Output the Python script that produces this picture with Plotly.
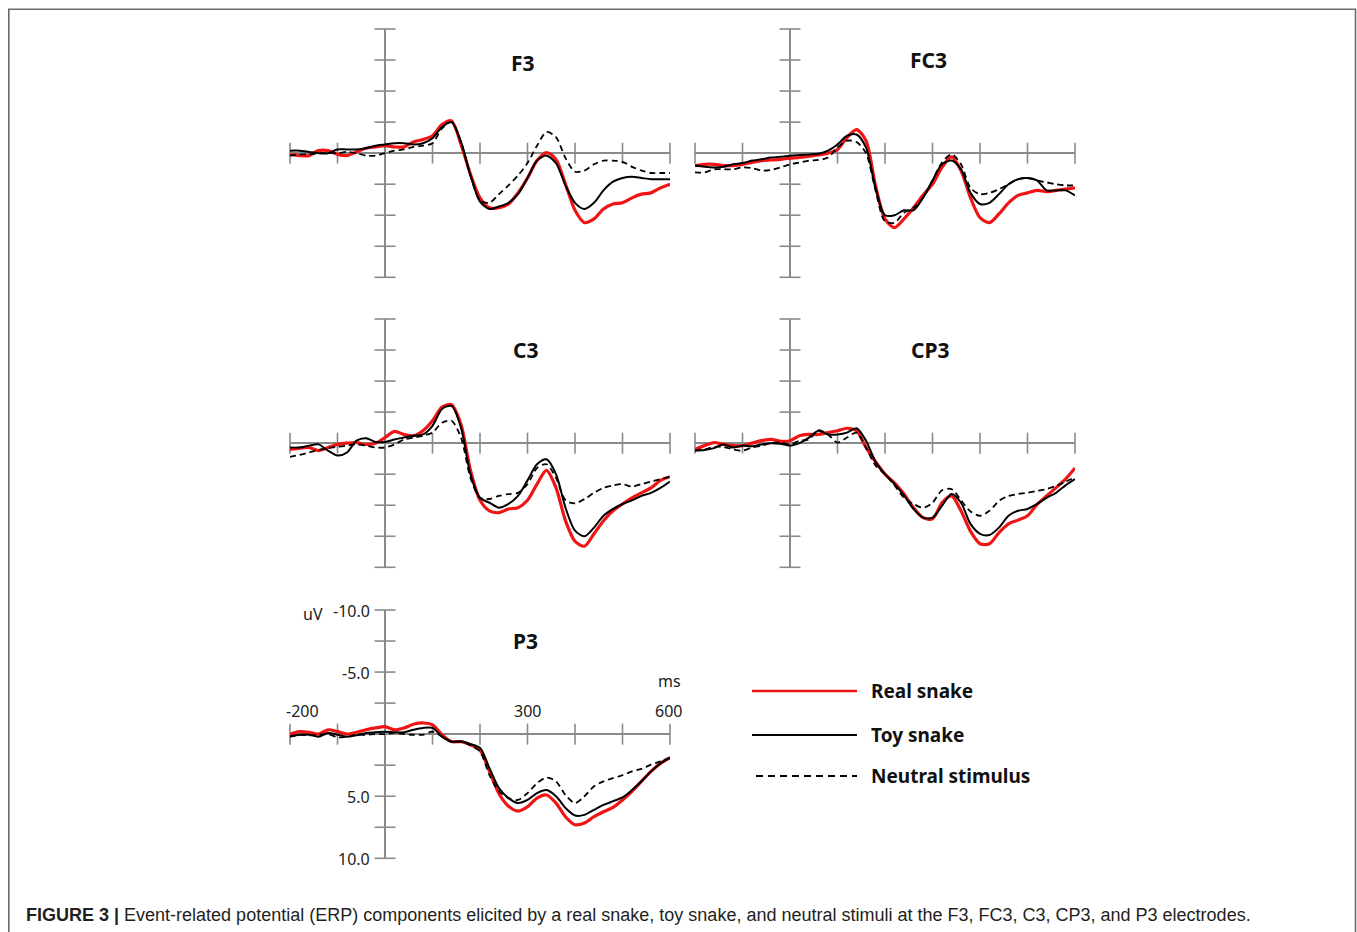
import plotly.graph_objects as go

# ---------------- data ----------------
time_ms = list(range(-200, 601, 20))

panel_names = ["F3", "FC3", "C3", "CP3", "P3"]
series_names = ["Real snake", "Toy snake", "Neutral stimulus"]

f3_real = [0.1, 0.2, 0.2, -0.2, -0.2, 0.1, 0.2, -0.1, -0.4, -0.5, -0.6, -0.5, -0.5, -0.9, -1.1, -1.4, -2.3, -2.6, -0.7, 1.7,
           3.6, 4.4, 4.4, 4.1, 3.2, 2.0, 0.6, -0.05, 0.5, 2.5, 4.6, 5.6, 5.3, 4.5, 4.1, 4.0, 3.6, 3.3, 3.2, 2.8, 2.5]
f3_toy = [-0.2, -0.2, -0.1, 0.0, 0.0, -0.3, -0.3, -0.3, -0.4, -0.6, -0.7, -0.8, -0.8, -0.7, -0.8, -1.2, -2.1, -2.5, -0.9, 1.8,
          3.9, 4.5, 4.3, 4.0, 3.3, 2.0, 0.6, 0.2, 0.8, 2.6, 4.0, 4.5, 4.0, 3.0, 2.3, 2.0, 1.9, 2.0, 2.1, 2.1, 2.1]
f3_neutral = [0.2, 0.1, 0.1, 0.0, 0.0, 0.0, -0.1, 0.0, 0.2, 0.2, 0.0, -0.2, -0.3, -0.5, -0.6, -0.8, -2.0, -2.5, -0.9, 1.8,
              3.8, 4.0, 3.3, 2.6, 1.8, 0.8, -0.6, -1.7, -1.3, 0.4, 1.5, 1.4, 0.9, 0.6, 0.6, 0.7, 1.1, 1.4, 1.6, 1.6, 1.6]

fc3_real = [1.0, 0.9, 0.9, 1.0, 1.0, 0.9, 0.75, 0.6, 0.55, 0.5, 0.4, 0.35, 0.25, 0.15, 0.0, -0.3, -1.25, -1.9, -1.0, 2.6,
            5.3, 6.0, 5.3, 4.4, 3.4, 2.5, 1.15, 0.3, 1.4, 3.6, 5.2, 5.6, 4.9, 4.0, 3.4, 3.2, 3.0, 3.1, 3.0, 2.9, 2.8]
fc3_toy = [1.0, 1.1, 1.15, 1.1, 0.9, 0.8, 0.6, 0.5, 0.35, 0.3, 0.2, 0.15, 0.1, 0.05, -0.2, -0.7, -1.4, -1.5, -0.45, 2.8,
           5.0, 5.0, 4.6, 4.6, 3.6, 2.2, 0.9, 0.6, 1.3, 3.2, 4.1, 4.0, 3.3, 2.5, 2.1, 2.0, 2.2, 3.0, 3.0, 3.0, 3.4]
fc3_neutral = [1.55, 1.55, 1.3, 1.3, 1.3, 1.15, 1.2, 1.4, 1.35, 1.15, 0.9, 0.75, 0.6, 0.55, 0.35, -0.45, -1.0, -0.9, 0.0, 3.0,
               5.5, 5.6, 4.8, 4.4, 3.6, 2.2, 0.75, 0.1, 0.9, 2.8, 3.3, 3.2, 2.9, 2.5, 2.1, 2.0, 2.2, 2.35, 2.5, 2.6, 2.6]

c3_real = [0.5, 0.4, 0.35, 0.6, 0.35, 0.1, 0.0, -0.05, 0.1, 0.0, -0.45, -0.95, -0.7, -0.6, -1.0, -1.8, -2.9, -3.1, -1.5, 2.2,
           4.6, 5.45, 5.6, 5.3, 5.2, 4.6, 3.3, 2.2, 3.6, 6.25, 7.9, 8.3, 7.3, 6.25, 5.45, 4.9, 4.4, 4.0, 3.6, 3.0, 2.7]
c3_toy = [0.35, 0.35, 0.2, 0.1, 0.6, 1.0, 0.75, -0.2, -0.4, -0.1, -0.1, -0.3, -0.45, -0.6, -0.7, -1.4, -2.75, -3.0, -1.25, 2.5,
          4.4, 4.8, 5.2, 4.9, 4.25, 3.0, 1.7, 1.3, 2.5, 5.2, 7.05, 7.5, 6.8, 5.85, 5.3, 4.9, 4.6, 4.25, 4.0, 3.6, 3.1]
c3_neutral = [1.1, 0.95, 0.75, 0.55, 0.4, 0.3, 0.2, 0.1, 0.2, 0.35, 0.35, 0.1, -0.3, -0.45, -0.6, -0.85, -1.65, -1.8, -0.45, 2.8,
              4.4, 4.5, 4.25, 4.1, 4.0, 3.3, 2.0, 1.7, 2.8, 4.6, 4.85, 4.5, 4.0, 3.6, 3.4, 3.3, 3.5, 3.3, 3.1, 2.9, 2.7]

cp3_real = [0.5, 0.2, -0.05, 0.1, 0.2, 0.2, 0.0, -0.2, -0.3, -0.15, -0.2, -0.6, -0.7, -0.7, -0.85, -1.0, -1.2, -1.0, 0.35, 1.5,
            2.5, 3.2, 4.1, 5.2, 6.0, 6.1, 4.8, 4.25, 5.45, 7.1, 8.1, 8.1, 7.2, 6.5, 6.2, 5.85, 4.95, 4.25, 3.6, 2.9, 2.0]
cp3_toy = [0.6, 0.55, 0.4, 0.1, 0.35, 0.2, 0.25, 0.1, 0.0, 0.05, 0.2, 0.0, -0.45, -1.0, -0.7, -0.7, -0.85, -1.2, -0.2, 1.5,
           2.5, 3.3, 4.2, 5.3, 6.0, 6.0, 5.05, 4.1, 4.8, 6.5, 7.3, 7.4, 6.8, 5.85, 5.45, 5.3, 4.9, 4.4, 4.0, 3.4, 2.9]
cp3_neutral = [0.6, 0.5, 0.3, 0.3, 0.5, 0.6, 0.35, 0.2, 0.0, -0.05, 0.1, -0.2, -0.3, -1.05, -0.7, -0.05, -0.45, -0.85, 0.35, 1.8,
               2.5, 3.4, 4.4, 4.9, 5.2, 4.8, 3.8, 3.7, 4.6, 5.5, 5.85, 5.45, 4.65, 4.25, 4.1, 4.0, 3.85, 3.7, 3.45, 3.1, 2.75]

p3_real = [0.0, -0.2, -0.15, 0.0, -0.35, -0.2, 0.0, -0.15, -0.35, -0.5, -0.6, -0.35, -0.5, -0.8, -0.9, -0.75, 0.05, 0.6, 0.6, 0.85,
           1.3, 3.0, 4.8, 5.8, 6.2, 5.85, 5.15, 4.9, 5.55, 6.65, 7.3, 7.15, 6.65, 6.25, 5.9, 5.3, 4.6, 3.8, 3.0, 2.35, 1.9]
p3_toy = [0.2, 0.05, 0.05, 0.2, -0.1, 0.05, 0.2, 0.1, -0.1, -0.15, -0.2, -0.15, -0.15, -0.35, -0.5, -0.5, 0.2, 0.6, 0.6, 0.8,
          1.1, 2.75, 4.35, 5.15, 5.55, 5.3, 4.75, 4.5, 5.0, 5.95, 6.55, 6.5, 6.1, 5.7, 5.4, 5.1, 4.5, 3.8, 3.0, 2.35, 1.9]
p3_neutral = [0.2, 0.05, 0.1, 0.05, 0.0, 0.25, 0.2, 0.05, 0.05, 0.0, 0.0, -0.1, 0.0, 0.05, 0.05, -0.2, 0.2, 0.6, 0.6, 0.9,
              1.4, 3.3, 4.6, 5.15, 5.3, 4.75, 3.95, 3.5, 3.8, 4.9, 5.55, 5.0, 4.2, 3.8, 3.55, 3.3, 3.0, 2.8, 2.45, 2.2, 1.9]

panel_data = {
    "F3": [f3_real, f3_toy, f3_neutral],
    "FC3": [fc3_real, fc3_toy, fc3_neutral],
    "C3": [c3_real, c3_toy, c3_neutral],
    "CP3": [cp3_real, cp3_toy, cp3_neutral],
    "P3": [p3_real, p3_toy, p3_neutral],
}

x_tick_vals = [-200, -100, 100, 200, 300, 400, 500, 600]
y_tick_vals = [-10, -7.5, -5, -2.5, 2.5, 5, 7.5, 10]
p3_y_label_vals = [-10, -5, 5, 10]
p3_y_label_text = ["-10.0", "-5.0", "5.0", "10.0"]
p3_x_label_vals = [-200, 300, 600]
p3_x_label_text = ["-200", "300", "600"]
caption = ("<b>FIGURE 3 |</b> Event-related potential (ERP) components elicited by a real snake, toy snake, "
           "and neutral stimuli at the F3, FC3, C3, CP3, and P3 electrodes.")

# ---------------- layout helpers (page pixels -> paper) ----------------
OX, OY = 0, 0
W, H = 1357, 932


def px(X):
    return (X - OX) / W


def py(Y):
    return 1 - (Y - OY) / H


panel_px = {
    "F3": (290, 670, 29, 277.3, 523, 63),
    "FC3": (695, 1075, 29, 277.3, 928, 60),
    "C3": (290, 670, 319, 567.3, 526, 350),
    "CP3": (695, 1075, 319, 567.3, 930, 350),
    "P3": (290, 670, 610, 858.3, 525, 641),
}

line_styles = [
    dict(color="#f01414", width=3.2),
    dict(color="#000000", width=2),
    dict(color="#000000", width=1.8, dash="6px,4px"),
]
draw_order = [0, 2, 1]
AXC = "#8a8a8a"
FONT = "Noto Sans"

fig = go.Figure()
layout = dict(
    width=W, height=H, margin=dict(l=0, r=0, t=0, b=0),
    paper_bgcolor="white", plot_bgcolor="rgba(0,0,0,0)", showlegend=False,
)
annotations = []
shapes = []

for i, name in enumerate(panel_names, start=1):
    x0, x1, y0, y1, tx, ty = panel_px[name]
    sfx = "" if i == 1 else str(i)
    xa, ya = "x" + sfx, "y" + sfx
    layout["xaxis" + sfx] = dict(domain=[px(x0), px(x1)], range=[-200, 600], anchor=ya,
                                 showticklabels=False, showgrid=False, ticks="", showline=False,
                                 zeroline=True, zerolinecolor=AXC, zerolinewidth=1.6, fixedrange=True)
    layout["yaxis" + sfx] = dict(domain=[py(y1), py(y0)], range=[10, -10], anchor=xa,
                                 showticklabels=False, showgrid=False, ticks="", showline=False,
                                 zeroline=True, zerolinecolor=AXC, zerolinewidth=1.6, fixedrange=True)
    # tick marks crossing the axes
    fig.add_trace(go.Scatter(x=x_tick_vals, y=[0] * len(x_tick_vals), xaxis=xa, yaxis=ya, mode="markers",
                             marker=dict(symbol="line-ns", size=15, line=dict(color=AXC, width=1.6)),
                             cliponaxis=False, hoverinfo="skip", showlegend=False))
    fig.add_trace(go.Scatter(x=[0] * len(y_tick_vals), y=y_tick_vals, xaxis=xa, yaxis=ya, mode="markers",
                             marker=dict(symbol="line-ew", size=15, line=dict(color=AXC, width=1.6)),
                             cliponaxis=False, hoverinfo="skip", showlegend=False))
    for k in draw_order:
        fig.add_trace(go.Scatter(x=time_ms, y=panel_data[name][k], xaxis=xa, yaxis=ya, mode="lines",
                                 line=dict(shape="spline", smoothing=0.8, **line_styles[k]),
                                 name=series_names[k], showlegend=False, cliponaxis=False))
    annotations.append(dict(x=px(tx), y=py(ty), xref="paper", yref="paper", text="<b>%s</b>" % name,
                            showarrow=False, xanchor="center", yanchor="middle",
                            font=dict(family=FONT, size=21, color="#111111")))

# P3 axis labels
for v, t in zip(p3_y_label_vals, p3_y_label_text):
    annotations.append(dict(x=0, y=v, xref="x5", yref="y5", text=t, showarrow=False, xanchor="right",
                            yanchor="middle", xshift=-13, yshift=-1,
                            font=dict(family=FONT, size=16, color="#222222")))
x_label_shift = [12, 0, -2]
for v, t, s in zip(p3_x_label_vals, p3_x_label_text, x_label_shift):
    annotations.append(dict(x=v, y=0, xref="x5", yref="y5", text=t, showarrow=False, xanchor="center",
                            yanchor="middle", xshift=s, yshift=23,
                            font=dict(family=FONT, size=16, color="#222222")))
annotations.append(dict(x=600, y=0, xref="x5", yref="y5", text="ms", showarrow=False, xanchor="center",
                        yanchor="middle", xshift=-1, yshift=53,
                        font=dict(family=FONT, size=16, color="#222222")))
annotations.append(dict(x=px(313), y=py(614), xref="paper", yref="paper", text="uV", showarrow=False,
                        xanchor="center", yanchor="middle",
                        font=dict(family=FONT, size=16, color="#222222")))

# legend
leg_y = [691, 735, 776]
for k, yy in enumerate(leg_y):
    st = line_styles[k]
    shapes.append(dict(type="line", xref="paper", yref="paper", x0=px(752 if k < 2 else 756), x1=px(857),
                       y0=py(yy), y1=py(yy),
                       line=dict(color=st["color"], width=st["width"] if k else 2.6,
                                 dash="7px,5px" if k == 2 else "solid")))
    annotations.append(dict(x=px(869), y=py(yy), xref="paper", yref="paper", text="<b>%s</b>" % series_names[k],
                            showarrow=False, xanchor="left", yanchor="middle",
                            font=dict(family=FONT, size=19, color="#111111")))

# caption
annotations.append(dict(x=px(24), y=py(915), xref="paper", yref="paper", text=caption, showarrow=False,
                        xanchor="left", yanchor="middle",
                        font=dict(family="Liberation Sans, Arial", size=18, color="#231f20")))

# frame
shapes.append(dict(type="rect", xref="paper", yref="paper", x0=px(8.8), x1=px(1355.5), y0=py(960), y1=py(9.2),
                   line=dict(color="#6a6a6a", width=1.6), fillcolor="rgba(0,0,0,0)", layer="below"))

layout["annotations"] = annotations
layout["shapes"] = shapes
fig.update_layout(**layout)
fig.write_html("out.html", config={"displayModeBar": False},
               post_script="document.body.style.margin='0';document.body.style.overflow='hidden';")
